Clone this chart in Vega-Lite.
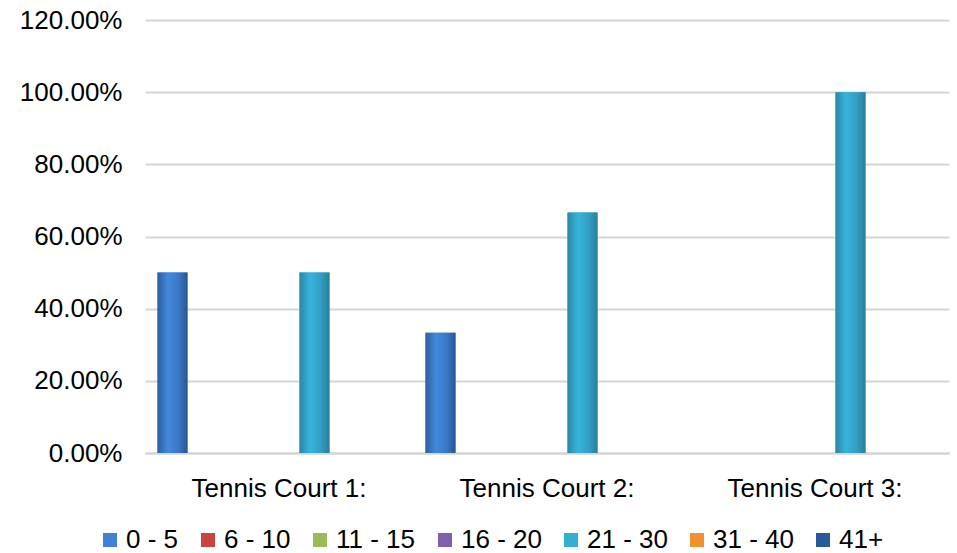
{
  "$schema": "https://vega.github.io/schema/vega-lite/v6.json",
  "width": 804,
  "height": 433,
  "autosize": {"type": "none"},
  "padding": {"left": 145, "top": 20, "right": 8, "bottom": 100},
  "background": "white",
  "config": {
    "view": {"stroke": null},
    "font": "Liberation Sans",
    "axis": {"labelFont": "Liberation Sans", "labelColor": "#000000", "labelFontSize": 26, "ticks": false, "tickSize": 0, "title": null},
    "legend": {"labelFont": "Liberation Sans", "labelColor": "#000000", "labelFontSize": 26}
  },
  "data": {
    "values": [
      {"court": "Tennis Court 1:", "age": "0 - 5", "share": 0.5},
      {"court": "Tennis Court 1:", "age": "6 - 10", "share": 0},
      {"court": "Tennis Court 1:", "age": "11 - 15", "share": 0},
      {"court": "Tennis Court 1:", "age": "16 - 20", "share": 0},
      {"court": "Tennis Court 1:", "age": "21 - 30", "share": 0.5},
      {"court": "Tennis Court 1:", "age": "31 - 40", "share": 0},
      {"court": "Tennis Court 1:", "age": "41+", "share": 0},
      {"court": "Tennis Court 2:", "age": "0 - 5", "share": 0.3333},
      {"court": "Tennis Court 2:", "age": "6 - 10", "share": 0},
      {"court": "Tennis Court 2:", "age": "11 - 15", "share": 0},
      {"court": "Tennis Court 2:", "age": "16 - 20", "share": 0},
      {"court": "Tennis Court 2:", "age": "21 - 30", "share": 0.6667},
      {"court": "Tennis Court 2:", "age": "31 - 40", "share": 0},
      {"court": "Tennis Court 2:", "age": "41+", "share": 0},
      {"court": "Tennis Court 3:", "age": "0 - 5", "share": 0},
      {"court": "Tennis Court 3:", "age": "6 - 10", "share": 0},
      {"court": "Tennis Court 3:", "age": "11 - 15", "share": 0},
      {"court": "Tennis Court 3:", "age": "16 - 20", "share": 0},
      {"court": "Tennis Court 3:", "age": "21 - 30", "share": 1.0},
      {"court": "Tennis Court 3:", "age": "31 - 40", "share": 0},
      {"court": "Tennis Court 3:", "age": "41+", "share": 0}
    ]
  },
  "encoding": {
    "x": {
      "field": "court", "type": "nominal", "sort": null,
      "scale": {"paddingInner": 0, "paddingOuter": 0},
      "axis": {"labelAngle": 0, "labelPadding": 22, "domainColor": "#d4d4d4", "domainWidth": 2, "grid": false}
    },
    "xOffset": {
      "field": "age", "type": "nominal",
      "scale": {"domain": ["0 - 5", "6 - 10", "11 - 15", "16 - 20", "21 - 30", "31 - 40", "41+"], "paddingInner": 0.155, "paddingOuter": 0.352}
    },
    "y": {
      "field": "share", "type": "quantitative",
      "scale": {"domain": [0, 1.2], "nice": false},
      "axis": {"format": ".2%", "values": [0, 0.2, 0.4, 0.6, 0.8, 1.0, 1.2], "labelPadding": 23, "domain": false, "gridColor": "#d4d4d4", "gridWidth": 2}
    }
  },
  "layer": [
    {
      "mark": {"type": "bar"},
      "encoding": {
        "color": {
          "field": "age", "type": "nominal",
          "scale": {
            "domain": ["0 - 5", "6 - 10", "11 - 15", "16 - 20", "21 - 30", "31 - 40", "41+"],
            "range": ["#3f82d4", "#c8443f", "#9bbb59", "#7f5fae", "#35aed2", "#f0902e", "#285a9a"]
          },
          "legend": {
            "orient": "none", "legendX": -48, "legendY": 507, "direction": "horizontal",
            "title": null, "symbolType": "square", "symbolSize": 196, "symbolStrokeWidth": 0,
            "columnPadding": 16, "labelOffset": 3, "padding": 0
          }
        }
      }
    },
    {
      "transform": [{"filter": "datum.age === '0 - 5'"}],
      "mark": {"type": "bar", "color": {"gradient": "linear", "x1": 0, "y1": 0, "x2": 1, "y2": 0, "stops": [{"offset": 0, "color": "#2d5f9f"}, {"offset": 0.35, "color": "#4389dc"}, {"offset": 0.7, "color": "#3a78c6"}, {"offset": 1, "color": "#2a5690"}]}}
    },
    {
      "transform": [{"filter": "datum.age === '21 - 30'"}],
      "mark": {"type": "bar", "color": {"gradient": "linear", "x1": 0, "y1": 0, "x2": 1, "y2": 0, "stops": [{"offset": 0, "color": "#2a87a6"}, {"offset": 0.35, "color": "#37b4da"}, {"offset": 0.7, "color": "#31a0c4"}, {"offset": 1, "color": "#287f9c"}]}}
    }
  ]
}
